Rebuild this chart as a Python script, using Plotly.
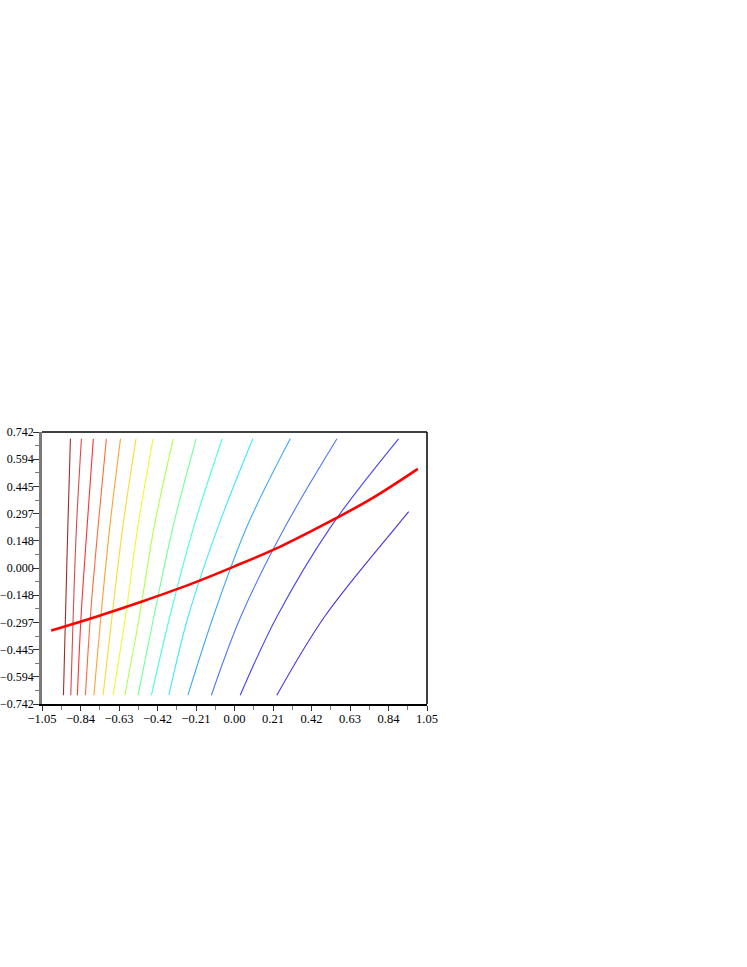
import plotly.graph_objects as go

# ---- data ----
level_y = [0.705, 0.226, -0.266, -0.694]          # y where contour x positions were read
last_level_y = [0.308, 0.226, -0.266, -0.694]     # the last contour stops early at the top

contour_x = [
    [-0.895, -0.909, -0.922, -0.933],
    [-0.835, -0.862, -0.880, -0.893],
    [-0.770, -0.804, -0.837, -0.857],
    [-0.699, -0.744, -0.786, -0.813],
    [-0.622, -0.680, -0.729, -0.767],
    [-0.537, -0.609, -0.668, -0.717],
    [-0.444, -0.527, -0.595, -0.662],
    [-0.334, -0.438, -0.519, -0.598],
    [-0.209, -0.335, -0.440, -0.526],
    [-0.067, -0.222, -0.353, -0.453],
    [0.100, -0.089, -0.253, -0.358],
    [0.304, 0.068, -0.116, -0.254],
    [0.559, 0.277, 0.034, -0.126],
    [0.895, 0.526, 0.231, 0.031],
    [0.950, 0.883, 0.491, 0.231],
]

contour_colors = [
    "#a02c2c", "#e04848", "#ff3030", "#ff6a38", "#ffa030",
    "#ffd830", "#f0f830", "#b0ff50", "#70ff98", "#48ffd8",
    "#40e8ff", "#40a8ff", "#4a78ff", "#4444ff", "#4434e0",
]

curve_x = [-1.0, -0.75, -0.5, -0.25, 0.0, 0.25, 0.5, 0.75, 1.0]
curve_y = [-0.341, -0.264, -0.181, -0.092, 0.009, 0.117, 0.243, 0.380, 0.541]

x_ticks = [-1.05, -0.84, -0.63, -0.42, -0.21, 0.0, 0.21, 0.42, 0.63, 0.84, 1.05]
x_ticktext = ["−1.05", "−0.84", "−0.63", "−0.42", "−0.21", "0.00", "0.21", "0.42", "0.63", "0.84", "1.05"]
x_minor = [-0.945, -0.735, -0.525, -0.315, -0.105, 0.105, 0.315, 0.525, 0.735, 0.945]

y_ticks = [-0.742, -0.5936, -0.4452, -0.2968, -0.1484, 0.0, 0.1484, 0.2968, 0.4452, 0.5936, 0.742]
y_ticktext = ["−0.742", "−0.594", "−0.445", "−0.297", "−0.148", "0.000", "0.148", "0.297", "0.445", "0.594", "0.742"]
y_minor = [-0.6678, -0.5194, -0.371, -0.2226, -0.0742, 0.0742, 0.2226, 0.371, 0.5194, 0.6678]

# ---- figure ----
fig = go.Figure()

for i, xs in enumerate(contour_x):
    ys = last_level_y if i == len(contour_x) - 1 else level_y
    fig.add_trace(go.Scatter(
        x=xs, y=ys, mode="lines",
        line=dict(color=contour_colors[i], width=1.1, shape="spline", smoothing=1.0),
        showlegend=False, hoverinfo="skip",
    ))

fig.add_trace(go.Scatter(
    x=curve_x, y=curve_y, mode="lines",
    line=dict(color="#ff0000", width=2.6, shape="spline", smoothing=1.0),
    showlegend=False, hoverinfo="skip",
))

font = dict(family="Liberation Serif, Times New Roman, serif", size=12.5, color="black")
yfont = dict(family="Liberation Serif, Times New Roman, serif", size=12, color="black")

fig.update_layout(
    width=747, height=967,
    margin=dict(l=42, r=320, t=432, b=263, pad=0),
    paper_bgcolor="white", plot_bgcolor="white",
    font=font,
    xaxis=dict(
        range=[-1.05, 1.05], showgrid=False, zeroline=False, automargin=False,
        tickmode="array", tickvals=x_ticks, ticktext=x_ticktext,
        ticks="outside", ticklen=5, tickwidth=1, tickcolor="#333333",
        showline=True, linecolor="black", linewidth=1.5,
        minor=dict(tickvals=x_minor, ticks="outside", ticklen=4, tickwidth=1, tickcolor="#777777"),
        tickfont=font, ticklabelstandoff=-3,
    ),
    yaxis=dict(
        range=[-0.742, 0.742], showgrid=False, zeroline=False, automargin=False,
        tickmode="array", tickvals=y_ticks, ticktext=y_ticktext,
        ticks="outside", ticklen=6, tickwidth=1, tickcolor="#333333",
        showline=True, linecolor="#7a7a7a", linewidth=2.5,
        minor=dict(tickvals=y_minor, ticks="outside", ticklen=4, tickwidth=1, tickcolor="#777777"),
        tickfont=yfont, ticklabelstandoff=-3,
    ),
    shapes=[
        dict(type="line", xref="paper", yref="paper", x0=0, x1=1, y0=1, y1=1,
             line=dict(color="black", width=1.5)),
        dict(type="line", xref="paper", yref="paper", x0=1, x1=1, y0=0, y1=1,
             line=dict(color="black", width=1.5)),
    ],
)

# remove the browser's default 8px page margin so the figure sits at the window's top-left corner
fig.write_html("out.html", config={"displayModeBar": False},
               post_script="document.body.style.margin='0px';")
